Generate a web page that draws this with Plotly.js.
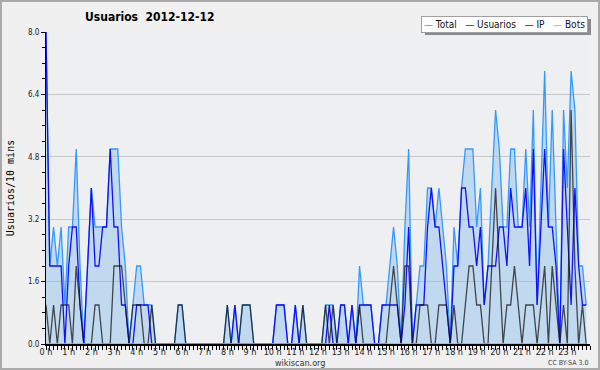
<!DOCTYPE html>
<html><head><meta charset="utf-8">
<script src="https://cdn.plot.ly/plotly-3.0.1.min.js"></script>
<style>
html,body{margin:0;padding:0;background:#f0f0f0;}
#wrap{position:relative;width:600px;height:370px;}
#chart{width:600px;height:370px;}
#frame{position:absolute;left:0;top:0;width:600px;height:370px;box-sizing:border-box;border:2px solid #aaaaaa;pointer-events:none;}
</style></head><body>
<div id="wrap"><div id="chart"></div><div id="frame"></div></div>
<script>
// 10-minute slots of 2012-12-12 (index 0 = 00:00 ... 143 = 23:50)
const slotsPerHour = 6;

const total = [
  8,2,3,2,3,1,3,3,5,2, 0,2,4,3,3,3,3,5,5,5,
  3,2,0,1,2,2,1,1,1,0, 0,0,0,0,0,1,1,0,0,0,
  0,0,0,0,0,0,0,0,1,0, 1,0,1,1,1,0,0,0,0,0,
  0,1,1,1,0,0,1,0,1,0, 0,0,0,0,1,1,1,0,1,1,
  0,1,0,2,1,1,1,0,0,1, 1,2,3,2,0,3,5,0,1,2,
  2,4,4,3,4,3,2,0,3,2, 4,5,5,5,3,4,1,2,4,6,
  5,3,3,5,5,3,3,5,3,6, 1,4,7,3,6,3,0,6,4,7,
  6,2,2,1
];
const usuarios = [
  8,2,2,2,2,0,2,3,3,1, 0,2,4,2,2,3,3,5,3,3,
  1,1,0,0,1,1,1,1,0,0, 0,0,0,0,0,0,0,0,0,0,
  0,0,0,0,0,0,0,0,0,0, 1,0,0,0,0,0,0,0,0,0,
  0,1,1,1,0,0,1,0,0,0, 0,0,0,0,0,1,0,0,1,1,
  0,1,0,1,1,1,1,0,0,1, 1,1,1,1,0,1,3,0,1,1,
  1,3,4,3,3,2,1,0,2,2, 4,4,3,3,2,3,1,2,2,2,
  3,3,2,4,3,3,3,4,2,5, 1,3,5,3,3,2,0,5,3,1,
  4,2,1,1
];
const ip = [
  1,0,1,0,1,1,1,0,2,1, 0,0,0,1,1,0,0,0,2,2,
  2,1,0,1,1,1,0,0,1,0, 0,0,0,0,0,1,1,0,0,0,
  0,0,0,0,0,0,0,0,1,0, 0,0,1,1,1,0,0,0,0,0,
  0,0,0,0,0,0,0,0,1,0, 0,0,0,0,1,0,1,0,0,0,
  0,0,0,1,0,0,0,0,0,0, 0,1,2,1,0,2,2,0,0,1,
  1,1,0,0,1,1,1,0,1,0, 0,1,2,2,1,1,0,0,2,4,
  2,0,1,1,2,1,0,1,1,1, 0,1,2,0,2,1,0,1,0,6,
  2,0,1,0
];
const bots = [
  0,0,0,0,0,0,0,0,0,0, 0,0,0,0,0,0,0,0,0,0,
  0,0,0,0,0,0,0,0,0,0, 0,0,0,0,0,0,0,0,0,0,
  0,0,0,0,0,0,0,0,0,0, 0,0,0,0,0,0,0,0,0,0,
  0,0,0,0,0,0,0,0,0,0, 0,0,0,0,0,0,0,0,0,0,
  0,0,0,0,0,0,0,0,0,0, 0,0,0,0,0,0,0,0,0,0,
  0,0,0,0,0,0,0,0,0,0, 0,0,0,0,0,0,0,0,0,0,
  0,0,0,0,0,0,0,0,0,0, 0,0,0,0,0,0,0,0,0,0,
  0,0,0,0
];
const hourTicks = [0,1,2,3,4,5,6,7,8,9,10,11,12,13,14,15,16,17,18,19,20,21,22,23];
const hourLabels = ['0 h','1 h','2 h','3 h','4 h','5 h','6 h','7 h','8 h','9 h','10 h','11 h',
                    '12 h','13 h','14 h','15 h','16 h','17 h','18 h','19 h','20 h','21 h','22 h','23 h'];
const yTicks = [0, 1.6, 3.2, 4.8, 6.4, 8.0];
const yLabels = ['0.0','1.6','3.2','4.8','6.4','8.0'];

const xHours = total.map((_, i) => i / slotsPerHour);

const traces = [
  {name:'Total', x:xHours, y:total, type:'scatter', mode:'lines',
   line:{color:'#3399ff', width:1.3}, fill:'tozeroy', fillcolor:'rgba(130,185,235,0.42)'},
  {name:'Usuarios', x:xHours, y:usuarios, type:'scatter', mode:'lines',
   line:{color:'#1010ff', width:1.3}},
  {name:'IP', x:xHours, y:ip, type:'scatter', mode:'lines',
   line:{color:'rgba(20,20,20,0.75)', width:1.3}},
  {name:'Bots', x:xHours, y:bots, type:'scatter', mode:'lines',
   line:{color:'#ffa500', width:1.3}}
];

const ML = 46, MR = 10, MT = 32, MB = 26, W = 600, H = 370;
const pw = W - ML - MR, ph = H - MT - MB;
const px = v => (v - ML) / pw;          // pixel x -> paper x
const py = v => (H - MB - v) / ph;      // pixel y -> paper y

const font = 'DejaVu Sans Condensed, DejaVu Sans, sans-serif';
const gap = '\u00a0\u00a0\u00a0';
const legendText =
  '<span style="color:#3399ff">—</span> Total' + gap +
  '<span style="color:#1010ff">—</span> Usuarios' + gap +
  '<span style="color:#333333">—</span> IP' + gap +
  '<span style="color:#ffa500">—</span> Bots';

const layout = {
  width:W, height:H,
  margin:{l:ML, r:MR, t:MT, b:MB, pad:0},
  paper_bgcolor:'#f0f0f0', plot_bgcolor:'#eeeff1',
  showlegend:false,
  title:{text:'<b>Usuarios\u00a0\u00a02012-12-12</b>',
         font:{family:font, size:12, color:'#000'},
         x:85/W, xanchor:'left', xref:'container',
         y:1-17/H, yanchor:'middle', yref:'container'},
  xaxis:{range:[0,24], tickmode:'array', tickvals:hourTicks, ticktext:hourLabels,
         ticks:'outside', ticklen:4, tickwidth:1, tickcolor:'#000',
         ticklabelstandoff:-5,
         showline:true, linecolor:'#000', linewidth:1.5, mirror:false,
         showgrid:false, zeroline:false,
         tickfont:{family:font, size:9, color:'#222'},
         minor:{tickmode:'linear', tick0:0, dtick:1/6, ticks:'outside', ticklen:4, tickwidth:1, tickcolor:'#000', showgrid:false},
         fixedrange:true},
  yaxis:{range:[0,8], tickmode:'array', tickvals:yTicks, ticktext:yLabels,
         ticks:'outside', ticklen:4, tickwidth:1, tickcolor:'#000',
         showline:true, linecolor:'#000', linewidth:1,
         showgrid:true, gridcolor:'#c8c8c8', gridwidth:1, zeroline:false,
         tickfont:{family:font, size:8, color:'#222'},
         minor:{tickmode:'linear', tick0:0, dtick:0.4, ticks:'outside', ticklen:3, tickwidth:1, tickcolor:'#000', showgrid:false},
         title:{text:'Usuarios/10 mins', font:{family:'DejaVu Sans Mono, monospace', size:10, color:'#000'}, standoff:11},
         fixedrange:true},
  shapes:[
    {type:'rect', xref:'paper', yref:'paper', layer:'above',
     x0:px(425), x1:px(591), y0:py(35), y1:py(19),
     fillcolor:'#8a8a8a', line:{width:0}}
  ],
  annotations:[
    {text:legendText, xref:'paper', yref:'paper', x:px(588), y:py(24.5),
     xanchor:'right', yanchor:'middle', showarrow:false,
     bgcolor:'#ffffff', bordercolor:'#a0a0a0', borderwidth:1, borderpad:2,
     font:{family:font, size:10, color:'#111'}},
    {text:'wikiscan.org', xref:'paper', yref:'paper', x:px(300), y:py(362.5),
     xanchor:'center', yanchor:'middle', showarrow:false,
     font:{family:font, size:9, color:'#333'}},
    {text:'CC BY-SA 3.0', xref:'paper', yref:'paper', x:px(590), y:py(362.5),
     xanchor:'right', yanchor:'middle', showarrow:false,
     font:{family:font, size:7, color:'#444'}}
  ]
};

Plotly.newPlot('chart', traces, layout, {displayModeBar:false, staticPlot:true});
</script>
</body></html>
